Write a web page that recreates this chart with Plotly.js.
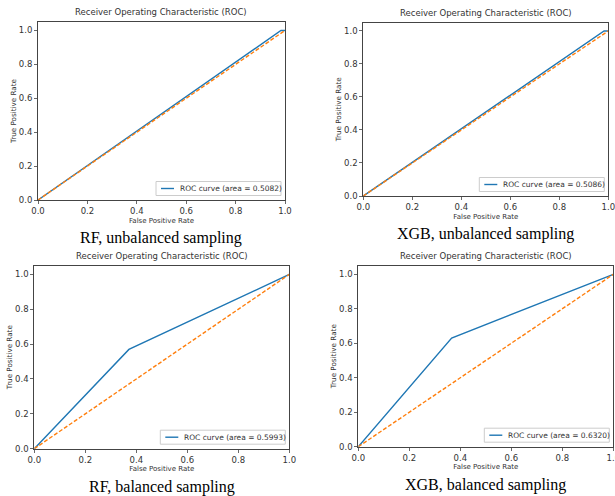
<!DOCTYPE html>
<html>
<head>
<meta charset="utf-8">
<script src="https://cdn.plot.ly/plotly-3.0.1.min.js"></script>
<style>html,body{margin:0;padding:0;background:#fff;}#chart{width:615px;height:496px;}</style>
</head>
<body>
<div id="chart"></div>
<script>
// ---- data ----
const panelCaptions = ["RF, unbalanced sampling", "XGB, unbalanced sampling", "RF, balanced sampling", "XGB, balanced sampling"];
const panelTitle = "Receiver Operating Characteristic (ROC)";
const rfUnbalFpr = [0, 0.9836, 1];
const rfUnbalTpr = [0, 1.0, 1];
const xgbUnbalFpr = [0, 0.9828, 1];
const xgbUnbalTpr = [0, 1.0, 1];
const rfBalFpr = [0, 0.371, 1];
const rfBalTpr = [0, 0.5696, 1];
const xgbBalFpr = [0, 0.366, 1];
const xgbBalTpr = [0, 0.630, 1];
const aucLabels = ["ROC curve (area = 0.5082)", "ROC curve (area = 0.5086)", "ROC curve (area = 0.5993)", "ROC curve (area = 0.6320)"];
const chanceX = [0, 1];
const chanceY = [0, 1];
const tickVals = [0, 0.2, 0.4, 0.6, 0.8, 1.0];
const tickText = ["0.0", "0.2", "0.4", "0.6", "0.8", "1.0"];

const fprs = [rfUnbalFpr, xgbUnbalFpr, rfBalFpr, xgbBalFpr];
const tprs = [rfUnbalTpr, xgbUnbalTpr, rfBalTpr, xgbBalTpr];

// ---- layout geometry (pixels) ----
const W = 615, H = 496;
const boxes = [
  {l: 38, r: 285, t: 22, b: 200},
  {l: 363.3, r: 608.3, t: 22.7, b: 196},
  {l: 34.3, r: 289.3, t: 265.7, b: 448.7},
  {l: 358.3, r: 613.3, t: 265.7, b: 446.7}
];
const BLUE = '#1f77b4', ORANGE = '#ff7f0e';
const textCol = '#333';

const traces = [];
const layout = {
  width: W, height: H,
  margin: {l: 0, r: 0, t: 0, b: 0},
  paper_bgcolor: '#fff', plot_bgcolor: '#fff',
  font: {family: 'DejaVu Sans', size: 8, color: textCol},
  annotations: [],
  shapes: [],
  showlegend: false
};
const px = v => v / W;
const py = v => 1 - v / H;

boxes.forEach((bx, i) => {
  const n = i + 1;
  const xa = n === 1 ? 'x' : 'x' + n;
  const ya = n === 1 ? 'y' : 'y' + n;
  traces.push({
    x: fprs[i], y: tprs[i], xaxis: xa, yaxis: ya,
    mode: 'lines', line: {color: BLUE, width: 1.4},
    name: aucLabels[i], showlegend: false
  });
  traces.push({
    x: chanceX, y: chanceY, xaxis: xa, yaxis: ya,
    mode: 'lines', line: {color: ORANGE, width: 1.4, dash: '4px,2px'},
    showlegend: false
  });
  const axKeyX = n === 1 ? 'xaxis' : 'xaxis' + n;
  const axKeyY = n === 1 ? 'yaxis' : 'yaxis' + n;
  const common = {
    showgrid: false, zeroline: false, showline: true, mirror: true,
    linecolor: '#444', linewidth: 1, ticks: 'outside', ticklen: 3, tickwidth: 0.8,
    tickcolor: '#444', tickvals: tickVals, ticktext: tickText,
    tickfont: {size: 8.5, color: textCol}, automargin: false, fixedrange: true,
    ticklabeloverflow: 'allow'
  };
  layout[axKeyX] = Object.assign({}, common, {
    domain: [px(bx.l), px(bx.r)], range: [0, 1], anchor: ya,
    title: {text: 'False Positive Rate', font: {size: 7, color: textCol}, standoff: 2}
  });
  layout[axKeyY] = Object.assign({}, common, {
    domain: [py(bx.b), py(bx.t)], range: [0, 1.05], anchor: xa,
    title: {text: 'True Positive Rate', font: {size: 7.2, color: textCol}, standoff: 1}
  });
  // legend box (bottom-right inside plot)
  const lr = bx.r - 4, lb = bx.b - 4.5, lw = 125, lh = 14;
  layout.shapes.push({
    type: 'rect', xref: 'paper', yref: 'paper',
    x0: px(lr - lw), x1: px(lr), y0: py(lb), y1: py(lb - lh),
    line: {color: '#cccccc', width: 1}, fillcolor: 'rgba(255,255,255,0.85)', layer: 'above'
  });
  layout.shapes.push({
    type: 'line', xref: 'paper', yref: 'paper',
    x0: px(lr - lw + 5), x1: px(lr - lw + 18), y0: py(lb - lh / 2), y1: py(lb - lh / 2),
    line: {color: BLUE, width: 1.4}, layer: 'above'
  });
  layout.annotations.push({
    text: aucLabels[i], xref: 'paper', yref: 'paper',
    x: px(lr - lw + 22), y: py(lb - lh / 2), xanchor: 'left', yanchor: 'middle',
    showarrow: false, font: {size: 7.5, color: textCol}
  });
  layout.annotations.push({
    text: panelTitle, xref: 'paper', yref: 'paper',
    x: px((bx.l + bx.r) / 2), y: py(bx.t - 3), xanchor: 'center', yanchor: 'bottom',
    showarrow: false, font: {size: 8.5, color: textCol}
  });
  layout.annotations.push({
    text: panelCaptions[i], xref: 'paper', yref: 'paper',
    x: px((bx.l + bx.r) / 2), y: py(bx.b + 38), xanchor: 'center', yanchor: 'middle',
    showarrow: false, font: {family: 'Liberation Serif', size: 16, color: '#000'}
  });
});

Plotly.newPlot('chart', traces, layout, {staticPlot: true, displayModeBar: false});
</script>
</body>
</html>
